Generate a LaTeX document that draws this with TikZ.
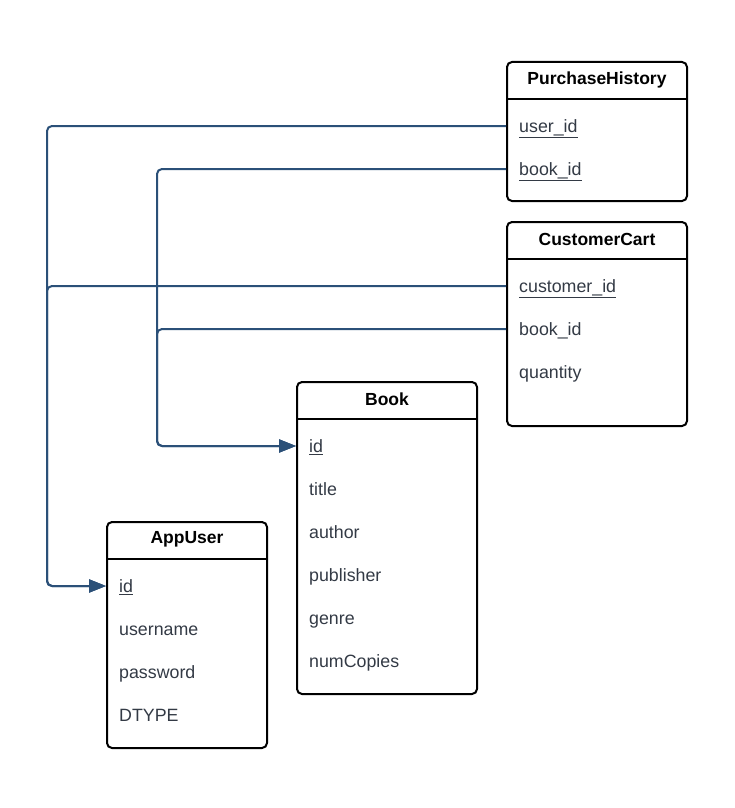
\documentclass[tikz,border=0pt]{standalone}
\usepackage{fontspec}
\setmainfont{Liberation Sans}
\usetikzlibrary{positioning, arrows.meta}
\definecolor{linkblue}{HTML}{2B5078}
\definecolor{fieldgray}{HTML}{333A45}
\tikzstyle{entity} = [rectangle, rounded corners=5pt, draw=black, line width=2pt,
anchor=north west, minimum width=180pt, inner sep=0pt]
\tikzstyle{title} = [font=\fontsize{17.5}{21}\selectfont\bfseries, text=black,
inner sep=0pt]
\tikzstyle{field} = [anchor=west, text=fieldgray, inner sep=0pt, text height=15pt,
text depth=2pt]
\tikzstyle{divider} = [line width=2pt]
\tikzstyle{arrow} = [linkblue, line width=2pt, rounded corners=5pt,
-{Triangle[length=17pt,width=13pt]}]

\begin{document}
\begin{tikzpicture}[x=1pt, y=-1pt, font=\fontsize{17.8}{21}\selectfont]
\useasboundingbox (0,0) rectangle (735,808);

% PurchaseHistory
\node(ph)[entity, minimum height=139pt] at (506,61){};
\node(phTitle)[title] at ([yshift=-18.5pt]ph.north){PurchaseHistory};
\draw[divider]([yshift=-38pt]ph.north west) -- ([yshift=-38pt]ph.north east);
\node(phUser)[field] at ([xshift=13pt, yshift=-65pt]ph.north west){\underline{user\_id}};
\node(phBook)[field, below=43pt of phUser.west, anchor=west]{\underline{book\_id}};

% CustomerCart
\node(cc)[entity, minimum height=204pt] at (506,221){};
\node(ccTitle)[title] at ([yshift=-18.5pt]cc.north){CustomerCart};
\draw[divider]([yshift=-38pt]cc.north west) -- ([yshift=-38pt]cc.north east);
\node(ccCustomer)[field] at ([xshift=13pt, yshift=-65pt]cc.north west){\underline{customer\_id}};
\node(ccBook)[field, below=43pt of ccCustomer.west, anchor=west]{book\_id};
\node(ccQty)[field, below=43pt of ccBook.west, anchor=west]{quantity};

% Book
\node(book)[entity, minimum height=312pt] at (296,381){};
\node(bookTitle)[title] at ([yshift=-18.5pt]book.north){Book};
\draw[divider]([yshift=-38pt]book.north west) -- ([yshift=-38pt]book.north east);
\node(bookId)[field] at ([xshift=13pt, yshift=-65pt]book.north west){\underline{id}};
\node(bookName)[field, below=43pt of bookId.west, anchor=west]{title};
\node(bookAuthor)[field, below=43pt of bookName.west, anchor=west]{author};
\node(bookPub)[field, below=43pt of bookAuthor.west, anchor=west]{publisher};
\node(bookGenre)[field, below=43pt of bookPub.west, anchor=west]{genre};
\node(bookCopies)[field, below=43pt of bookGenre.west, anchor=west]{numCopies};

% AppUser
\node(au)[entity, minimum width=160pt, minimum height=226pt] at (106,521){};
\node(auTitle)[title] at ([yshift=-18.5pt]au.north){AppUser};
\draw[divider]([yshift=-38pt]au.north west) -- ([yshift=-38pt]au.north east);
\node(auId)[field] at ([xshift=13pt, yshift=-65pt]au.north west){\underline{id}};
\node(auName)[field, below=43pt of auId.west, anchor=west]{username};
\node(auPass)[field, below=43pt of auName.west, anchor=west]{password};
\node(auType)[field, below=43pt of auPass.west, anchor=west]{DTYPE};

% links
\draw[arrow](ph.west |- phUser) -- ([xshift=-59pt]au.west |- phUser) |- (au.west |- auId);
\draw[arrow](cc.west |- ccCustomer) -- ([xshift=-59pt]au.west |- ccCustomer) |- (au.west |- auId);
\draw[arrow](ph.west |- phBook) -- ([xshift=-139pt]book.west |- phBook) |- (book.west |- bookId);
\draw[arrow](cc.west |- ccBook) -- ([xshift=-139pt]book.west |- ccBook) |- (book.west |- bookId);

\end{tikzpicture}
\end{document}
